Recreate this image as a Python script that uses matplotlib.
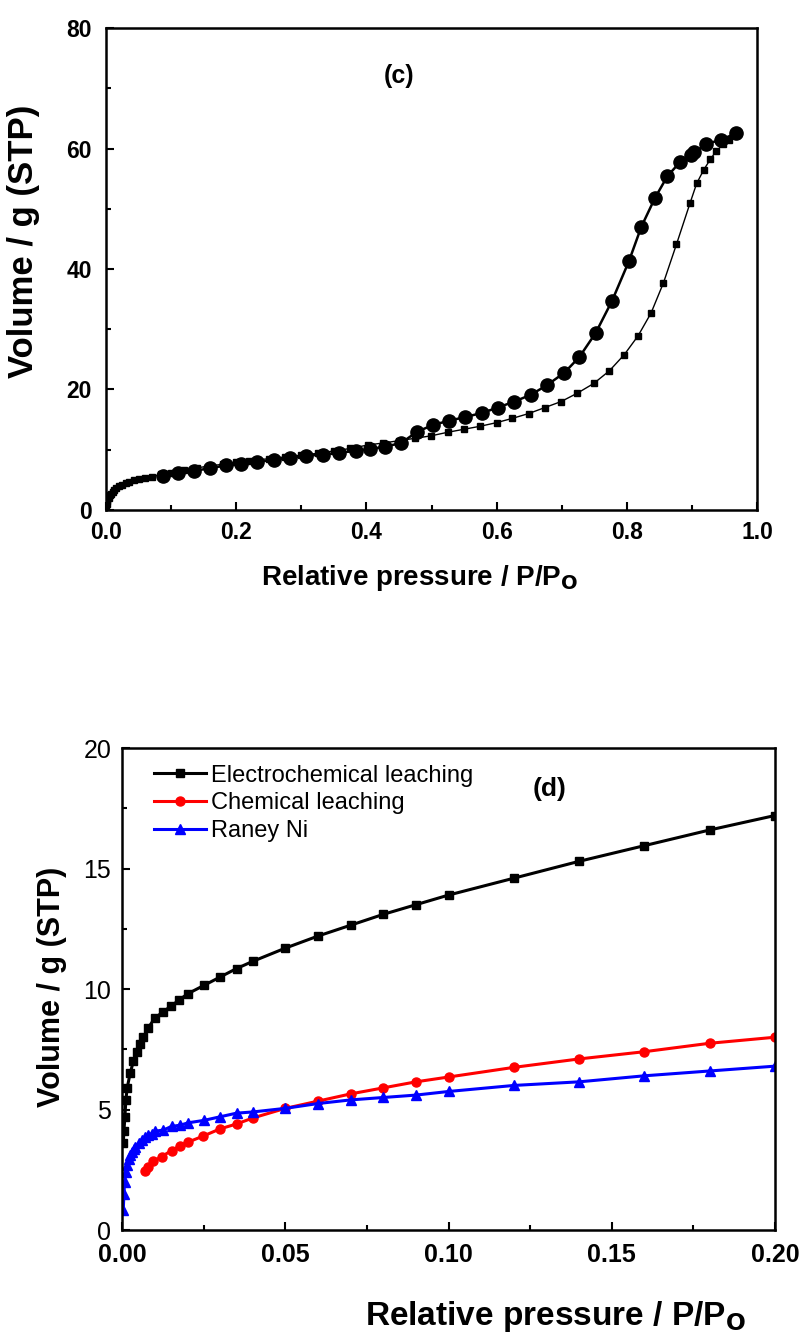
import matplotlib
matplotlib.use("Agg")
import matplotlib.pyplot as plt
from matplotlib.ticker import MultipleLocator, FormatStrFormatter

plt.rcParams['font.family'] = ['Liberation Sans', 'DejaVu Sans']

# (c) adsorption branch (squares) and desorption branch (circles)
ads_p = [0.0005, 0.001, 0.002, 0.004, 0.006, 0.008, 0.010, 0.013, 0.016, 0.020,
         0.025, 0.030, 0.036, 0.043, 0.050, 0.060, 0.071, 0.085, 0.10, 0.12,
         0.14, 0.16, 0.18, 0.20, 0.22, 0.25, 0.275, 0.30, 0.325, 0.35,
         0.375, 0.403, 0.425, 0.45, 0.475, 0.499, 0.525, 0.550, 0.575, 0.600,
         0.624, 0.649, 0.674, 0.699, 0.724, 0.749, 0.773, 0.796, 0.817, 0.837,
         0.856, 0.876, 0.897, 0.907, 0.918, 0.928, 0.937, 0.948, 0.957]
ads_v = [0.4, 1.0, 1.5, 2.0, 2.4, 2.7, 3.0, 3.3, 3.6, 3.9,
         4.2, 4.5, 4.7, 4.9, 5.1, 5.3, 5.5, 5.9, 6.2, 6.6,
         7.0, 7.3, 7.6, 7.9, 8.2, 8.5, 8.8, 9.1, 9.4, 9.8,
         10.2, 10.8, 11.1, 11.5, 11.9, 12.3, 12.9, 13.4, 13.9, 14.5,
         15.2, 16.0, 17.0, 18.0, 19.4, 21.0, 23.1, 25.8, 28.9, 32.7,
         37.7, 44.1, 51.0, 54.2, 56.5, 58.2, 59.6, 60.7, 61.5]
des_p = [0.968, 0.944, 0.922, 0.903, 0.899, 0.881, 0.862, 0.843, 0.822, 0.803,
         0.777, 0.752, 0.727, 0.704, 0.677, 0.652, 0.627, 0.602, 0.577, 0.551,
         0.526, 0.502, 0.478, 0.453, 0.428, 0.405, 0.384, 0.358, 0.333, 0.307,
         0.283, 0.258, 0.232, 0.208, 0.184, 0.159, 0.135, 0.111, 0.088]
des_v = [62.5, 61.5, 60.7, 59.4, 59.0, 57.7, 55.4, 51.8, 47.0, 41.3,
         34.7, 29.4, 25.4, 22.8, 20.7, 19.1, 18.0, 17.0, 16.1, 15.4,
         14.8, 14.1, 13.0, 11.1, 10.5, 10.1, 9.8, 9.5, 9.2, 9.0,
         8.7, 8.3, 8.0, 7.7, 7.4, 6.9, 6.5, 6.1, 5.6]

# (d) low pressure region
elec_p = [0.0003, 0.0005, 0.0008, 0.0011, 0.0015, 0.0024, 0.0034, 0.0044, 0.0054, 0.0064,
          0.008, 0.010, 0.0125, 0.015, 0.0175, 0.020, 0.025, 0.030, 0.035, 0.040,
          0.05, 0.06, 0.07, 0.08, 0.09, 0.10, 0.12, 0.14, 0.16, 0.18, 0.20]
elec_v = [3.6, 4.1, 4.7, 5.4, 5.9, 6.5, 7.0, 7.4, 7.7, 8.0,
          8.4, 8.8, 9.05, 9.3, 9.55, 9.8, 10.15, 10.5, 10.85, 11.15,
          11.7, 12.2, 12.65, 13.1, 13.5, 13.9, 14.6, 15.3, 15.95, 16.6, 17.2]
chem_p = [0.0070, 0.0080, 0.0095, 0.0121, 0.0151, 0.0177, 0.0202, 0.0248, 0.030, 0.035,
          0.040, 0.050, 0.060, 0.070, 0.080, 0.09, 0.10, 0.12, 0.14, 0.16, 0.18, 0.20]
chem_v = [2.45, 2.6, 2.85, 3.05, 3.3, 3.5, 3.65, 3.9, 4.2, 4.4,
          4.65, 5.05, 5.35, 5.65, 5.9, 6.15, 6.35, 6.75, 7.1, 7.4, 7.75, 8.0]
raney_p = [0.0003, 0.0005, 0.0007, 0.0010, 0.0015, 0.0020, 0.0025, 0.0030, 0.0035, 0.0040,
           0.0050, 0.0060, 0.0070, 0.0080, 0.0090, 0.010, 0.0126, 0.0151, 0.0177, 0.0202,
           0.025, 0.030, 0.035, 0.040, 0.050, 0.060, 0.070, 0.080, 0.09, 0.10,
           0.12, 0.14, 0.16, 0.18, 0.20]
raney_v = [0.85, 1.5, 2.0, 2.4, 2.7, 2.95, 3.1, 3.25, 3.35, 3.45,
           3.6, 3.75, 3.85, 3.95, 4.0, 4.1, 4.15, 4.3, 4.35, 4.45,
           4.55, 4.7, 4.85, 4.9, 5.05, 5.25, 5.4, 5.5, 5.6, 5.75,
           6.0, 6.15, 6.4, 6.6, 6.8]

fig = plt.figure(figsize=(8.03, 13.37), dpi=100)
ax1 = fig.add_axes([0.132, 0.6186, 0.811, 0.3604])
ax2 = fig.add_axes([0.1523, 0.080, 0.8127, 0.3605])

bold = dict(fontweight='bold')

def style(ax):
    for s in ax.spines.values():
        s.set_linewidth(1.8)
    ax.tick_params(which='both', direction='in', top=False, right=False, width=1.5)
    ax.tick_params(which='major', length=6)
    ax.tick_params(which='minor', length=3.5)

def place_labels(ax, xpos, ypos):
    # put axis labels where they sit in the original figure (centre anchored)
    ax.xaxis.label.set_va('center')
    ax.yaxis.label.set_va('center')
    ax.xaxis.set_label_coords(*xpos)
    ax.yaxis.set_label_coords(*ypos)

# ---- (c)
ax1.plot(ads_p, ads_v, color='black', lw=1.0, marker='s', ms=4.5)
ax1.plot(des_p, des_v, color='black', lw=1.8, marker='o', ms=9.5)
ax1.set_xlim(0, 1.0)
ax1.set_ylim(0, 80)
ax1.xaxis.set_major_locator(MultipleLocator(0.2))
ax1.xaxis.set_minor_locator(MultipleLocator(0.1))
ax1.xaxis.set_major_formatter(FormatStrFormatter('%.1f'))
ax1.yaxis.set_major_locator(MultipleLocator(20))
ax1.yaxis.set_minor_locator(MultipleLocator(10))
style(ax1)
ax1.tick_params(labelsize=16.5)
ax1.tick_params(axis='x', pad=8)
ax1.tick_params(axis='y', pad=10)
for lab in ax1.get_xticklabels() + ax1.get_yticklabels():
    lab.set_fontweight('bold')
ax1.set_xlabel('Relative pressure / P/P$_\\mathbf{O}$', fontsize=20, **bold)
ax1.set_ylabel('Volume / g (STP)', fontsize=25, **bold)
place_labels(ax1, (0.481, -0.141), (-0.127, 0.558))
ax1.text(0.45, 0.90, '(c)', transform=ax1.transAxes, ha='center', va='center', fontsize=18, **bold)

# ---- (d)
ax2.plot(elec_p, elec_v, color='black', lw=2.2, marker='s', ms=6, label='Electrochemical leaching')
ax2.plot(chem_p, chem_v, color='red', lw=2.2, marker='o', ms=6.5, label='Chemical leaching')
ax2.plot(raney_p, raney_v, color='blue', lw=2.2, marker='^', ms=6.5, label='Raney Ni')
ax2.set_xlim(0, 0.20)
ax2.set_ylim(0, 20)
ax2.xaxis.set_major_locator(MultipleLocator(0.05))
ax2.xaxis.set_minor_locator(MultipleLocator(0.025))
ax2.xaxis.set_major_formatter(FormatStrFormatter('%.2f'))
ax2.yaxis.set_major_locator(MultipleLocator(5))
ax2.yaxis.set_minor_locator(MultipleLocator(2.5))
style(ax2)
ax2.tick_params(labelsize=18)
ax2.tick_params(axis='x', pad=9)
ax2.tick_params(axis='y', pad=8)
for lab in ax2.get_xticklabels():
    lab.set_fontweight('bold')
ax2.set_xlabel('Relative pressure / P/P$_\\mathbf{O}$', fontsize=24, **bold)
ax2.set_ylabel('Volume / g (STP)', fontsize=22, **bold)
place_labels(ax2, (0.663, -0.180), (-0.107, 0.504))
ax2.text(0.655, 0.915, '(d)', transform=ax2.transAxes, ha='center', va='center', fontsize=19, **bold)
ax2.legend(loc='upper left', bbox_to_anchor=(0.024, 1.0), frameon=False, fontsize=17,
           handlelength=2.2, borderaxespad=0.2, borderpad=0.5, labelspacing=0.25,
           handletextpad=0.2)

fig.savefig('out.png', dpi=100)
